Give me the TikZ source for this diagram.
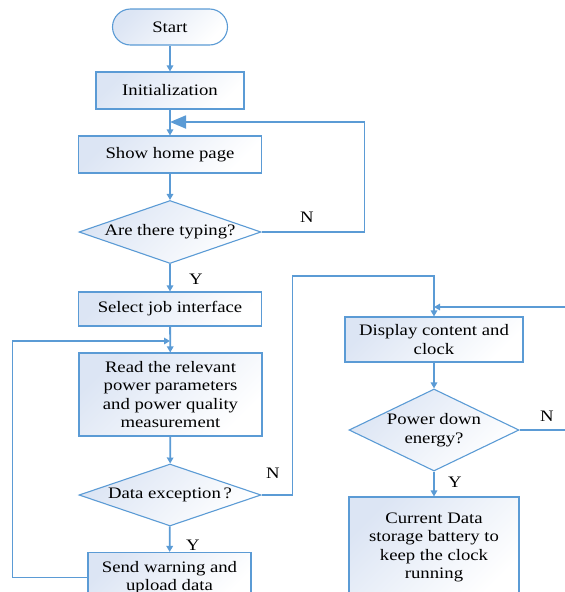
\documentclass[tikz,border=0pt]{standalone}
\usepackage{fontspec}
\setmainfont{Liberation Serif}[FakeStretch=1.17]
\usetikzlibrary{shapes.geometric,arrows.meta}
\definecolor{flowline}{RGB}{91,155,213}
\definecolor{flowfill}{RGB}{220,229,244}

\begin{document}
\begin{tikzpicture}[x=1pt, y=-1pt,
	font=\fontsize{16}{18.6}\selectfont,
	box/.style={draw=flowline, line width=1.1pt, top color=flowfill, bottom color=white, shading angle=45, inner sep=0pt, align=center},
	decide/.style={box, diamond, aspect=2.9},
	flow/.style={draw=flowline, line width=1.8pt, -{Triangle[length=6pt,width=6.5pt]}},
	]
	\useasboundingbox (0,0) rectangle (565,592);
	\clip (0,0) rectangle (565,592);

	% Define the nodes with specific positions
	\node[box, rounded corners=18pt, minimum width=115pt, minimum height=36pt] (start) at (170,27) {Start};
	\node[box, minimum width=148pt, minimum height=37pt] (init) at (170,90.5) {Initialization};
	\node[box, minimum width=183pt, minimum height=37pt] (home) at (170,154.5) {Show home page};
	\node[decide, minimum width=182pt, minimum height=63pt] (typ) at (170,232) {Are there typing?};
	\node[box, minimum width=183pt, minimum height=34pt] (sel) at (170,309) {Select job interface};
	\node[box, minimum width=183pt, minimum height=83pt] (read) at (170.5,394.5) {Read the relevant\\power parameters\\and power quality\\measurement};
	\node[decide, minimum width=182pt, minimum height=62pt] (exc) at (170,495) {Data exception\,?};
	\node[box, minimum width=163pt, minimum height=50pt] (send) at (169.5,577.5) {Send warning and\\upload data};
	\node[box, minimum width=178pt, minimum height=45pt] (disp) at (434,339.5) {Display content and\\clock};
	\node[decide, aspect=2.07, minimum width=170pt, minimum height=82pt] (pd) at (434,430) {Power down\\energy?};
	\node[box, minimum width=170pt, minimum height=101pt] (cur) at (434,547.5) {Current Data\\storage battery to\\keep the clock\\running};

	\coordinate (j1) at (170,122);
	\coordinate (j2) at (170,341);
	\coordinate (j3) at (434,276);
	\coordinate (j4) at (434,307);

	% Draw the edges between nodes with labels
	\draw[flow] (start) -- (init);
	\draw[flow] (init) -- (home);
	\draw[flow] (home) -- (typ);
	\draw[flow, -{Triangle[length=16pt,width=13pt]}] (typ.east) -- ++(103,0) |- (j1);
	\draw[flow] (typ) -- (sel);
	\draw[flow] (sel) -- (read);
	\draw[flow] (send.west) -- ++(-75,0) |- (j2);
	\draw[flow] (read) -- (exc);
	\draw[flow] (exc) -- (send);
	\draw[flow] (exc.east) -- ++(31,0) |- (j3) -- (disp.north);
	\draw[flow] (pd.east) -- ++(80,0) |- (j4);
	\draw[flow] (disp) -- (pd);
	\draw[flow] (pd) -- (cur);

	\node (nTyp) at (307,217) {N};
	\node (yTyp) at (196,279) {Y};
	\node (nExc) at (273,473) {N};
	\node (yExc) at (193,545) {Y};
	\node (nPd) at (547,416) {N};
	\node (yPd) at (455,482) {Y};
\end{tikzpicture}
\end{document}
